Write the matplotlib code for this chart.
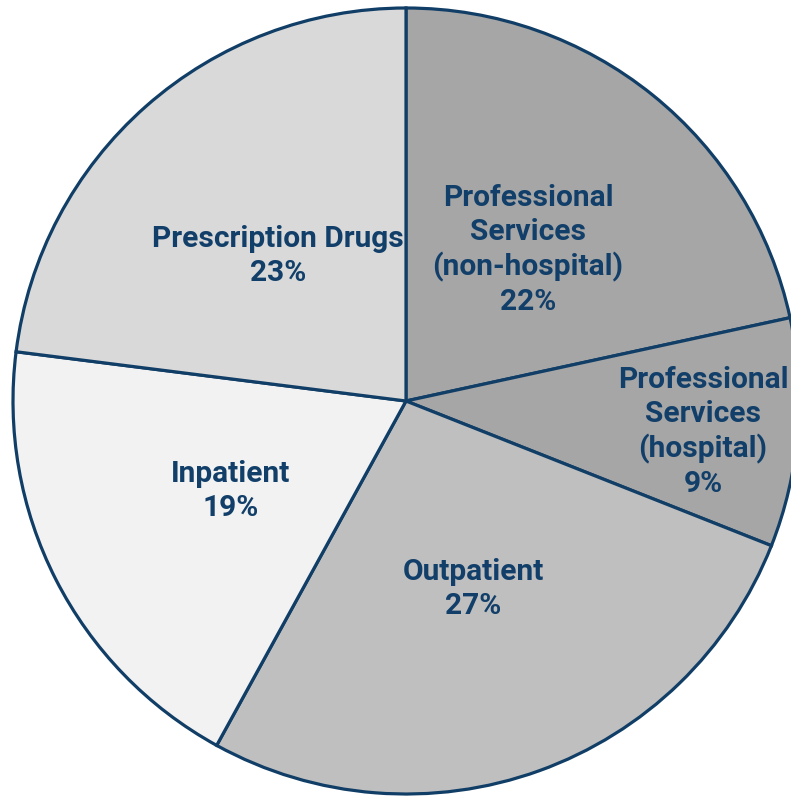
import matplotlib
matplotlib.use("Agg")
import matplotlib.pyplot as plt

categories = ["Professional\nServices\n(non-hospital)", "Professional\nServices\n(hospital)",
              "Outpatient", "Inpatient", "Prescription Drugs"]
shares = [21.6, 9.4, 27, 19, 23]
colors = ["#a6a6a6", "#a6a6a6", "#bfbfbf", "#f2f2f2", "#d9d9d9"]

# label centre positions in pixels (from top-left of image)
label_px = [(528, 250), (703, 432), (473, 589), (231, 491), (278, 256)]

W, H = 791, 797
cx, cy, R = 406, 401, 393

fig = plt.figure(figsize=(W / 100, H / 100), dpi=100)
ax = fig.add_axes([(cx - R) / W, (H - cy - R) / H, 2 * R / W, 2 * R / H])
ax.pie(shares, colors=colors, startangle=90, counterclock=False, radius=1,
       wedgeprops=dict(edgecolor="#113e66", linewidth=2.3))
ax.set_xlim(-1, 1)
ax.set_ylim(-1, 1)
ax.set_aspect("equal", adjustable="box")
ax.axis("off")

for cat, val, (px, py) in zip(categories, shares, label_px):
    ax.text((px - cx) / R, (cy - py) / R, f"{cat}\n{round(val)}%", ha="center", va="center",
            fontsize=21.5, fontweight="bold", family=["Roboto", "DejaVu Sans"],
            color="#123f69", linespacing=1.27)

fig.savefig("out.png", dpi=100)
